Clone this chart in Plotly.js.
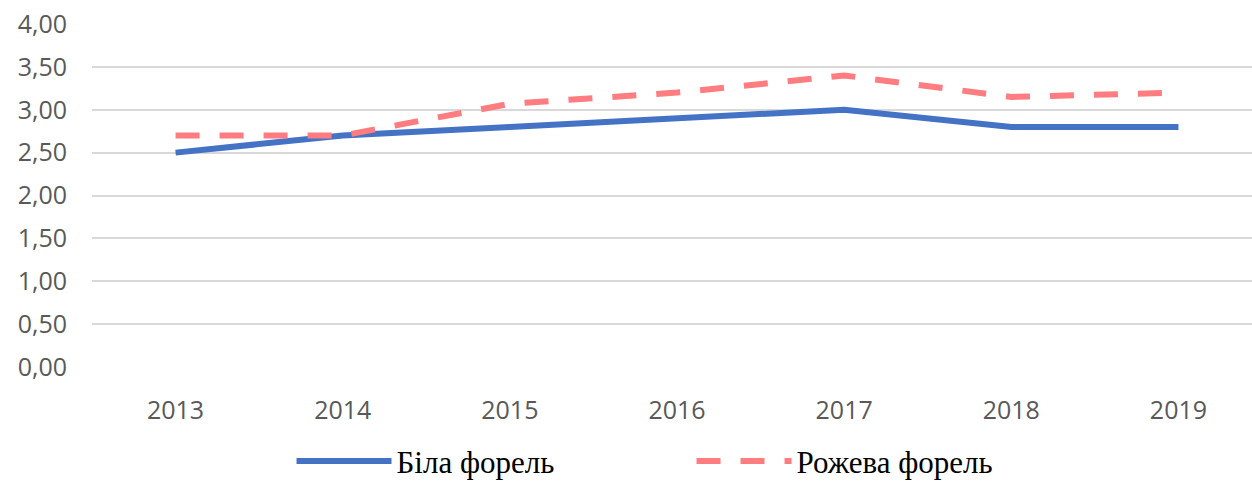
<!DOCTYPE html>
<html>
<head>
<meta charset="utf-8">
<script src="https://cdn.plot.ly/plotly-3.0.1.min.js"></script>
<style>html,body{margin:0;padding:0;background:#fff;}#chart{width:1252px;height:483px;}</style>
</head>
<body>
<div id="chart"></div>
<script>
const years = ['2013', '2014', '2015', '2016', '2017', '2018', '2019'];
const whiteTrout = [2.50, 2.70, 2.80, 2.90, 3.00, 2.80, 2.80];
const pinkTrout = [2.70, 2.70, 3.07, 3.20, 3.40, 3.15, 3.20];
const seriesNames = ['Біла форель', 'Рожева форель'];
const yTicks = [0, 0.5, 1, 1.5, 2, 2.5, 3, 3.5, 4];

const traces = [
  {
    x: years, y: whiteTrout, name: seriesNames[0], type: 'scatter', mode: 'lines',
    line: {color: '#4472C4', width: 6}
  },
  {
    x: years, y: pinkTrout, name: seriesNames[1], type: 'scatter', mode: 'lines',
    line: {color: '#FF7C80', width: 6, dash: '24px,20px'}
  }
];

const layout = {
  width: 1252, height: 483,
  margin: {l: 92, r: 0, t: 24, b: 116, autoexpand: false},
  paper_bgcolor: '#ffffff', plot_bgcolor: '#ffffff',
  showlegend: true,
  legend: {
    orientation: 'h', x: 0.172, xanchor: 'left', y: -0.275, yanchor: 'middle',
    font: {family: '"Liberation Serif", "Times New Roman", serif', size: 31, color: '#000000'},
    itemwidth: 95, entrywidth: 290, entrywidthmode: 'pixels',
    bgcolor: 'rgba(0,0,0,0)'
  },
  xaxis: {
    type: 'category', range: [-0.5, 6.44],
    showgrid: false, zeroline: false, showline: false, ticks: '',
    ticklabelstandoff: 26,
    tickfont: {family: '"Open Sans", sans-serif', size: 25, color: '#595959'}
  },
  yaxis: {
    range: [0, 4], tickvals: yTicks, tickformat: '.2f',
    showgrid: true, gridcolor: '#d9d9d9', gridwidth: 2,
    zeroline: false, showline: false, ticks: '',
    ticklabelstandoff: 24,
    tickfont: {family: '"Open Sans", sans-serif', size: 25, color: '#595959'}
  },
  separators: ', '
};

Plotly.newPlot('chart', traces, layout, {displayModeBar: false, staticPlot: true});
</script>
</body>
</html>
